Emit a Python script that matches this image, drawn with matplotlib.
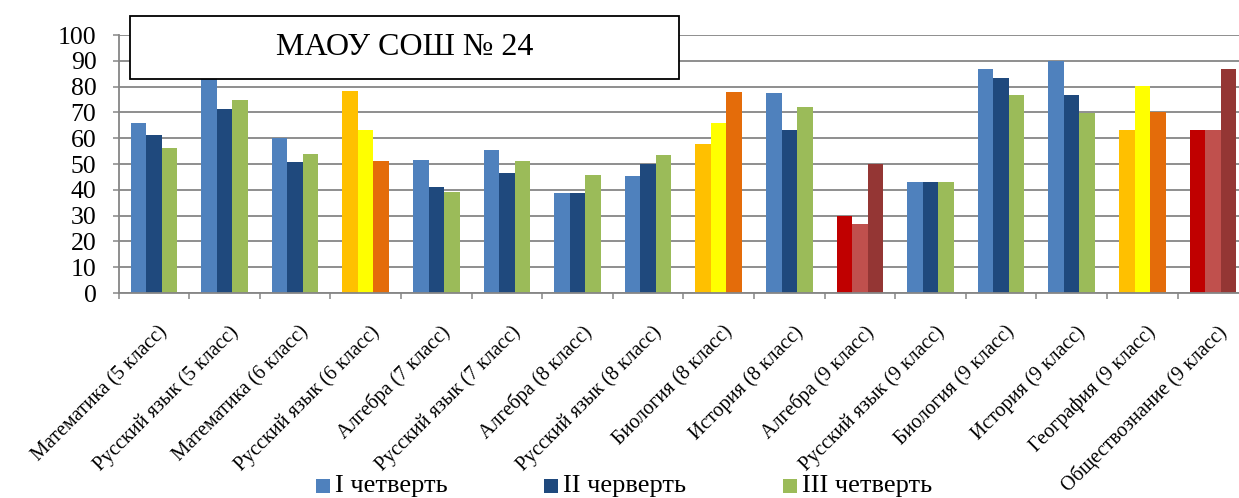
import numpy as np
import matplotlib
matplotlib.use('Agg')
import matplotlib.pyplot as plt
from matplotlib.patches import Rectangle
from matplotlib.transforms import ScaledTranslation

plt.rcParams['font.family'] = ['Liberation Serif', 'DejaVu Serif']

subjects = ['Математика (5 класс)', 'Русский язык (5 класс)', 'Математика (6 класс)',
            'Русский язык (6 класс)', 'Алгебра (7 класс)', 'Русский язык (7 класс)',
            'Алгебра (8 класс)', 'Русский язык (8 класс)', 'Биология (8 класс)',
            'История (8 класс)', 'Алгебра (9 класс)', 'Русский язык (9 класс)',
            'Биология (9 класс)', 'История (9 класс)', 'География (9 класс)',
            'Обществознание (9 класс)']
q1 = [65.7, 87.0, 60.0, 78.4, 51.7, 55.4, 38.8, 45.5, 57.7, 77.7, 30.0, 43.2, 86.7, 89.9, 63.1, 63.1]
q2 = [61.1, 71.5, 50.6, 63.1, 41.0, 46.4, 38.8, 49.9, 65.8, 63.3, 26.6, 43.2, 83.3, 76.6, 80.3, 63.1]
q3 = [56.1, 74.8, 53.9, 51.1, 39.2, 51.0, 45.7, 53.3, 77.9, 72.1, 49.9, 43.2, 76.6, 69.9, 70.1, 86.8]
legend_labels = ['I четверть', 'II черверть', 'III четверть']

# цветовые схемы групп
palettes = {
    'blue': ['#4F81BD', '#1F497D', '#9BBB59'],
    'orange': ['#FFC000', '#FFFF00', '#E46C0A'],
    'red': ['#C00000', '#C0504D', '#943634'],
}
group_palette = ['blue', 'blue', 'blue', 'orange', 'blue', 'blue', 'blue', 'blue',
                 'orange', 'blue', 'red', 'blue', 'blue', 'blue', 'orange', 'red']

W, H = 1239, 498
fig = plt.figure(figsize=(W / 100, H / 100), dpi=100)
ax = fig.add_axes([118.6 / W, (H - 293) / H, 16 * 70.6 / W, 258 / H])

x = np.arange(len(subjects))
bw = 0.22
for k, vals in enumerate([q1, q2, q3]):
    cols = [palettes[p][k] for p in group_palette]
    ax.bar(x + (k - 1) * bw, vals, width=bw, color=cols, zorder=2)

gray = '#868686'
ax.set_xlim(-0.5, len(subjects) - 0.5)
ax.set_ylim(0, 100)
ax.set_yticks(range(0, 101, 10))
ax.grid(axis='y', color=gray, linewidth=1.3, zorder=0)
ax.set_axisbelow(True)
for s in ['top', 'right']:
    ax.spines[s].set_visible(False)
for s in ['left', 'bottom']:
    ax.spines[s].set_color(gray)
    ax.spines[s].set_linewidth(1.3)
ax.tick_params(axis='y', direction='out', length=4.5, width=1.1, color=gray,
               labelsize=18.5, pad=11.5)

ax.set_xticks(x)
ax.set_xticks(np.arange(-0.5, len(subjects)), minor=True)
ax.tick_params(axis='x', which='major', length=0, pad=21)
ax.tick_params(axis='x', which='minor', direction='out', length=4, width=1.1, color=gray)
ax.set_xticklabels(subjects, rotation=45, ha='right', va='top',
                   rotation_mode='anchor', fontsize=14.5)
for lab in ax.get_xticklabels():
    lab.set_transform(lab.get_transform() + ScaledTranslation(4 / 100, 0, fig.dpi_scale_trans))

# заголовок в рамке
fig.add_artist(Rectangle((130 / W, 1 - 79 / H), 549 / W, 63 / H, transform=fig.transFigure,
                         facecolor='white', edgecolor='black', linewidth=1.3, zorder=5))
fig.text(404.5 / W, 1 - 47.5 / H, 'МАОУ СОШ № 24', ha='center', va='center',
         fontsize=23, zorder=6)

# легенда
leg_x = [316, 544, 783]
for lx, lab, col in zip(leg_x, legend_labels, palettes['blue']):
    fig.add_artist(Rectangle((lx / W, 1 - 493 / H), 14 / W, 14 / H, transform=fig.transFigure,
                             facecolor=col, edgecolor='none', zorder=5))
    fig.text((lx + 19) / W, 1 - 486 / H, lab, ha='left', va='center', fontsize=19, zorder=6)

fig.savefig('out.png', dpi=100)
